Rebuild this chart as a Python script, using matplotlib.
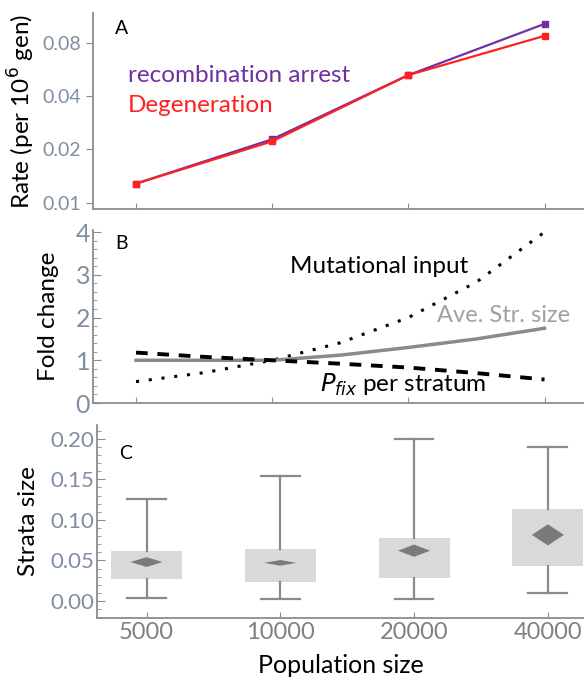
import numpy as np
import matplotlib
matplotlib.use("Agg")
import matplotlib.pyplot as plt
from matplotlib.patches import Rectangle, Polygon
from matplotlib.ticker import FixedLocator, MultipleLocator

plt.rcParams['font.family'] = ['Lato', 'DejaVu Sans']

# ---------------- data ----------------
pop_sizes = ["5000", "10000", "20000", "40000"]
rate_recomb = [0.0128, 0.0228, 0.0526, 0.1024]
rate_degen = [0.0128, 0.0222, 0.0526, 0.0876]

# panel B curves read at half-octave steps (5000, 7071, 10000, 14142, 20000, 28284, 40000)
fold_pos = [0, 0.5, 1, 1.5, 2, 2.5, 3]
mut_input = [0.5, 0.71, 1.0, 1.41, 2.0, 2.83, 4.0]
ave_str = [1.0, 1.0, 1.0, 1.12, 1.3, 1.5, 1.75]
pfix = [1.18, 1.08, 1.0, 0.92, 0.83, 0.70, 0.55]

# panel C box stats
box_low = [0.027, 0.0235, 0.0284, 0.043]
box_high = [0.0618, 0.064, 0.078, 0.1136]
whisk_low = [0.004, 0.0025, 0.0025, 0.0099]
whisk_high = [0.126, 0.154, 0.200, 0.190]
mean_val = [0.048, 0.047, 0.062, 0.0815]
mean_ci = [0.006, 0.0035, 0.0075, 0.013]

W, H = 584, 681
fig = plt.figure(figsize=(W / 100, H / 100), dpi=100)

def ax_rect(l, t, r, b):
    return [l / W, 1 - b / H, (r - l) / W, (b - t) / H]

spine_col = "#8c8c8c"
tick_col = "#7f8ea3"
x = np.arange(len(pop_sizes))
xl = (-0.316, 3.29)

def style(ax, ls):
    for s in ["top", "right"]:
        ax.spines[s].set_visible(False)
    for s in ["left", "bottom"]:
        ax.spines[s].set_color(spine_col)
        ax.spines[s].set_linewidth(1.3)
    ax.tick_params(colors=spine_col, labelcolor=tick_col, labelsize=ls)

# ---------------- Panel A ----------------
axA = fig.add_axes(ax_rect(93, 13, 584, 209))
axA.set_yscale("log")
axA.plot(x, rate_recomb, color="#7030a0", lw=1.6, marker="s", ms=4)
axA.plot(x, rate_degen, color="#ff2020", lw=1.6, marker="s", ms=4)
axA.set_xlim(*xl)
axA.set_ylim(0.0092, 0.118)
axA.yaxis.set_major_locator(FixedLocator([0.01, 0.02, 0.04, 0.08]))
axA.yaxis.set_minor_locator(FixedLocator([]))
axA.set_yticklabels(["0.01", "0.02", "0.04", "0.08"])
axA.set_xticks(x)
axA.set_xticklabels([])
style(axA, 14)
axA.tick_params(axis="y", direction="out", length=5)
axA.tick_params(axis="x", direction="in", length=4)
axA.set_ylabel("Rate (per 10$^6$ gen)", fontsize=17.5, labelpad=4)
axA.text(0.045, 0.92, "A", transform=axA.transAxes, fontsize=14, va="center")
fig.text(128 / W, 1 - 75 / H, "recombination arrest", color="#7030a0", fontsize=17.5, va="center")
fig.text(128 / W, 1 - 105 / H, "Degeneration", color="#ff2020", fontsize=17.5, va="center")

# ---------------- Panel B ----------------
axB = fig.add_axes(ax_rect(93, 230, 584, 403))
axB.plot(fold_pos, mut_input, color="black", lw=2.2, ls=(0, (1, 3.2)))
axB.plot(fold_pos, ave_str, color="#8a8a8a", lw=2.5)
axB.plot(fold_pos, pfix, color="black", lw=2.8, ls=(0, (3, 2.5)))
axB.set_xlim(*xl)
axB.set_ylim(0, 4.05)
axB.set_yticks([0, 1, 2, 3, 4])
axB.yaxis.set_minor_locator(MultipleLocator(0.2))
axB.set_xticks(x)
axB.set_xticklabels([])
style(axB, 18)
axB.tick_params(axis="y", direction="in", length=6, pad=2)
axB.tick_params(axis="y", which="minor", direction="in", length=3, color=spine_col)
axB.tick_params(axis="x", direction="in", length=4)
axB.set_ylabel("Fold change", fontsize=17.5, labelpad=12)
axB.text(0.045, 0.92, "B", transform=axB.transAxes, fontsize=14, va="center")
fig.text(290 / W, 1 - 267 / H, "Mutational input", color="black", fontsize=17.5, va="center")
fig.text(437 / W, 1 - 315 / H, "Ave. Str. size", color="#a0a0a0", fontsize=17, va="center")
fig.text(320 / W, 1 - 385 / H, r"$P_{fix}$ per stratum", color="black", fontsize=17.5, va="center")

# ---------------- Panel C ----------------
axC = fig.add_axes(ax_rect(97, 425, 584, 618))
wcol = "#8a8a8a"
box_hw, cap_hw, dia_hw = 0.265, 0.145, 0.12
for i in range(len(pop_sizes)):
    axC.add_patch(Rectangle((x[i] - box_hw, box_low[i]), 2 * box_hw,
                            box_high[i] - box_low[i], facecolor="#d9d9d9",
                            edgecolor="none", zorder=1))
    axC.plot([x[i], x[i]], [box_high[i], whisk_high[i]], color=wcol, lw=1.6, zorder=2)
    axC.plot([x[i], x[i]], [whisk_low[i], box_low[i]], color=wcol, lw=1.6, zorder=2)
    axC.plot([x[i] - cap_hw, x[i] + cap_hw], [whisk_high[i]] * 2, color=wcol, lw=1.6, zorder=2)
    axC.plot([x[i] - cap_hw, x[i] + cap_hw], [whisk_low[i]] * 2, color=wcol, lw=1.6, zorder=2)
    axC.add_patch(Polygon([(x[i] - dia_hw, mean_val[i]), (x[i], mean_val[i] + mean_ci[i]),
                           (x[i] + dia_hw, mean_val[i]), (x[i], mean_val[i] - mean_ci[i])],
                          closed=True, facecolor="#7a7a7a", edgecolor="none", zorder=3))
axC.set_xlim(-0.37, 3.27)
axC.set_ylim(-0.021, 0.217)
axC.set_yticks([0.0, 0.05, 0.10, 0.15, 0.20])
axC.set_yticklabels(["0.00", "0.05", "0.10", "0.15", "0.20"])
axC.yaxis.set_minor_locator(MultipleLocator(0.01))
axC.set_xticks(x)
axC.set_xticklabels(pop_sizes)
style(axC, 16)
axC.tick_params(axis="x", labelcolor="#808080", labelsize=17, direction="in", length=4, pad=3)
axC.tick_params(axis="y", direction="in", length=6, pad=2)
axC.tick_params(axis="y", which="minor", direction="in", length=3, color=spine_col)
axC.set_ylabel("Strata size", fontsize=17.5, labelpad=8)
axC.set_xlabel("Population size", fontsize=18, labelpad=8)
axC.text(0.045, 0.85, "C", transform=axC.transAxes, fontsize=14, va="center")

fig.savefig("out.png", dpi=100)
